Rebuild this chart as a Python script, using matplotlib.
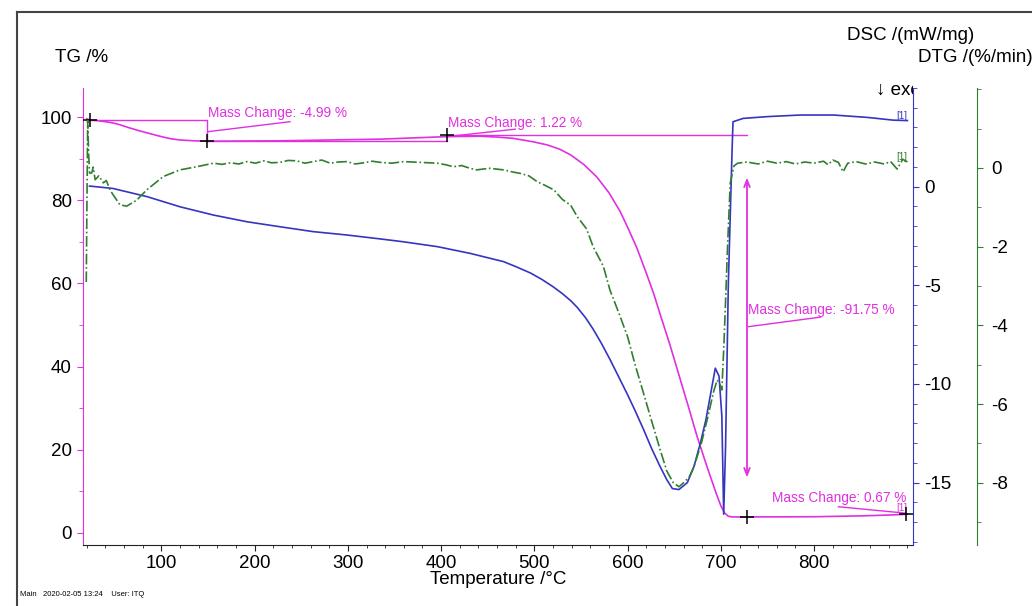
import numpy as np
import matplotlib
matplotlib.use('Agg')
import matplotlib.pyplot as plt
from matplotlib.ticker import MultipleLocator
from matplotlib.lines import Line2D
from matplotlib.transforms import Bbox, TransformedBbox

plt.rcParams['font.family'] = ['Liberation Sans', 'DejaVu Sans']
plt.rcParams['axes.unicode_minus'] = False

# TG curve (%)
T_tg = [20, 23.5, 30, 40, 48, 55, 66, 75, 85, 95, 102, 110, 120, 135, 149, 227, 335, 406, 442,
        460, 477, 490, 500, 514, 527, 539, 553, 567, 580, 592, 600, 610, 620, 628, 635, 645,
        655, 665, 674.5, 685, 695, 700, 704, 708, 712, 730, 800, 850, 880, 900]
tg = [99.6, 99.3, 99.2, 98.9, 98.6, 98.2, 97.4, 96.8, 96.2, 95.6, 95.2, 94.8, 94.5, 94.3, 94.2,
      94.3, 94.7, 95.3, 95.4, 95.2, 94.9, 94.4, 94.0, 93.3, 92.3, 90.9, 88.6, 85.6, 81.8, 77.3,
      73.5, 68.5, 62.5, 57.5, 52.5, 45.5, 38.0, 30.5, 23.2, 16.0, 9.5, 6.5, 4.8, 4.0, 3.85,
      3.85, 3.9, 4.1, 4.3, 4.5]

# DSC curve (mW/mg)
T_dsc = [23, 48, 85, 120, 156, 192, 227, 263, 299, 335, 359, 396, 431, 467, 480, 496, 508, 520,
         530, 539, 546, 555, 563, 572, 581, 590, 600, 608, 617, 626, 635, 642, 648, 655, 664,
         671, 678, 684, 689, 694, 698, 701, 703, 705, 708, 712, 713, 724, 750, 785, 821, 857,
         885, 900]
dsc = [0.03, -0.09, -0.51, -1.02, -1.44, -1.78, -2.03, -2.28, -2.45, -2.65, -2.79, -3.04, -3.38,
       -3.80, -4.05, -4.38, -4.7, -5.07, -5.42, -5.78, -6.12, -6.65, -7.22, -7.95, -8.75, -9.6,
       -10.55, -11.35, -12.3, -13.3, -14.2, -14.85, -15.3, -15.35, -15.0, -14.2, -13.0, -11.8,
       -10.5, -9.2, -9.6, -11.6, -16.6, -13.2, -4.9, 1.85, 3.29, 3.46, 3.55, 3.63, 3.63, 3.51,
       3.37, 3.35]

# DTG curve (%/min)
T_dtg = [19.5, 21, 22, 23, 25.3, 27, 29, 30.7, 33, 37.8, 41, 45, 48.5, 55.7, 62.9, 73.6, 84.3,
         102, 120, 138, 156, 165, 174, 183, 192, 201, 210, 218, 227, 236, 245, 254, 263, 272,
         281, 290, 299, 308, 317, 326, 335, 347, 360, 378, 396, 405, 413, 422, 431, 438, 452,
         467, 476, 485, 494, 503, 512, 521, 530, 539, 546, 556, 563, 574, 581, 590, 600, 608,
         617, 626, 635, 642, 649, 655, 660, 666, 671, 679, 686, 692, 696, 699, 701, 703, 705,
         707, 710, 714, 718, 728, 740, 750, 760, 770, 780, 790, 800, 810, 815, 820, 826, 831,
         836, 845, 855, 865, 875, 882, 889, 895, 900]
dtg = [-2.9, 1.2, 0.4, -0.13, -0.13, 0.02, -0.3, -0.26, -0.2, -0.38, -0.32, -0.56, -0.69, -0.94,
       -0.97, -0.82, -0.56, -0.22, -0.05, 0.03, 0.12, 0.09, 0.13, 0.1, 0.16, 0.12, 0.18, 0.13,
       0.14, 0.19, 0.18, 0.12, 0.16, 0.2, 0.12, 0.15, 0.16, 0.1, 0.13, 0.17, 0.14, 0.12, 0.16,
       0.14, 0.12, 0.08, 0.03, 0.06, -0.01, -0.05, -0.01, -0.05, -0.1, -0.14, -0.2, -0.35, -0.45,
       -0.56, -0.8, -0.95, -1.24, -1.55, -2.0, -2.5, -3.1, -3.65, -4.29, -5.0, -5.72, -6.45,
       -7.17, -7.7, -8.0, -8.1, -8.0, -7.85, -7.6, -7.0, -6.33, -5.7, -5.39, -5.5, -5.64, -4.63,
       -3.4, -2.09, -0.39, 0.05, 0.12, 0.15, 0.1, 0.17, 0.12, 0.16, 0.1, 0.15, 0.12, 0.17, 0.08,
       0.2, 0.14, -0.1, 0.12, 0.16, 0.1, 0.15, 0.1, 0.16, -0.03, 0.22, 0.15]

x_ticks = [100, 200, 300, 400, 500, 600, 700, 800]
tg_ticks = [0, 20, 40, 60, 80, 100]
dsc_ticks = [0, -5, -10, -15]
dtg_ticks = [0, -2, -4, -6, -8]

mag = '#e030e0'
blue = '#3535c0'
green = '#2f7f2f'
fs = 13.5

fig = plt.figure(figsize=(10.32, 6.06), dpi=100)
ax = fig.add_axes([83 / 1032, 1 - 545 / 606, 830 / 1032, 457 / 606])
ax2 = ax.twinx()
ax3 = ax.twinx()

ax.plot(T_tg, tg, color=mag, lw=1.2, zorder=3)
ax2.plot(T_dsc, dsc, color=blue, lw=1.2)
ax3.plot(T_dtg, dtg, color=green, lw=1.2, ls='-.')

ax.set_xlim(16, 906)
ax.set_ylim(-2.9, 107)
ax2.set_ylim(-18.16, 5.0)
ax3.set_ylim(-9.58, 2.03)

for a in (ax, ax2, ax3):
    a.patch.set_visible(False)
    for s in a.spines.values():
        s.set_visible(False)

ax.spines['left'].set_visible(True)
ax.spines['left'].set_color(mag)
ax.spines['bottom'].set_visible(True)
ax.spines['bottom'].set_color('#222222')
ax2.spines['right'].set_visible(True)
ax2.spines['right'].set_color(blue)
ax3.spines['right'].set_visible(True)
ax3.spines['right'].set_color(green)
ax3.spines['right'].set_position(('outward', 46))

ax.set_xticks(x_ticks)
ax.xaxis.set_minor_locator(MultipleLocator(20))
ax.set_yticks(tg_ticks)
ax.yaxis.set_minor_locator(MultipleLocator(10))
ax2.set_yticks(dsc_ticks)
ax2.yaxis.set_minor_locator(MultipleLocator(1))
ax3.set_yticks(dtg_ticks)
ax3.yaxis.set_minor_locator(MultipleLocator(1))

ax.tick_params(axis='x', which='major', length=4, pad=3, labelsize=fs, color='#222222')
ax.tick_params(axis='x', which='minor', length=2.5, color='#222222')
ax.tick_params(axis='y', which='major', length=4, pad=4, labelsize=fs, color=mag)
ax.tick_params(axis='y', which='minor', length=3, color=mag)
ax2.tick_params(axis='y', which='major', length=4, pad=4, labelsize=fs, color=blue)
ax2.tick_params(axis='y', which='minor', length=3, color=blue)
ax3.tick_params(axis='y', which='major', length=4, pad=6, labelsize=fs, color=green)
ax3.tick_params(axis='y', which='minor', length=3, color=green)

# mass change annotations on TG axis
ann = dict(color=mag, lw=1.0, zorder=4)
ax.plot([23.5, 149, 149], [99.3, 99.3, 94.2], **ann)
ax.plot([149, 406], [94.2, 94.2], **ann)
ax.plot([150, 238], [96.5, 98.9], **ann)
ax.plot([406, 728], [95.6, 95.6], **ann)
ax.plot([406, 479.5], [95.3, 97.1], **ann)
ax.plot([729.5, 806.8], [49.6, 51.9], **ann)
ax.plot([826, 896], [6.3, 4.8], **ann)
ax.annotate('', xy=(728, 12.7), xytext=(728, 86.1),
            arrowprops=dict(arrowstyle='<->,head_length=0.5,head_width=0.2', color=mag, lw=1.3))

tk = dict(color=mag, fontsize=9.8, va='center', ha='left', zorder=5)
ax.text(150, 101.0, 'Mass Change: -4.99 %', **tk)
ax.text(407.6, 98.6, 'Mass Change: 1.22 %', **tk)
ax.text(729.5, 53.6, 'Mass Change: -91.75 %', **tk)
ax.text(755, 8.4, 'Mass Change: 0.67 %', **tk)

ax.plot([23.5, 149, 406, 728, 899], [99.3, 94.2, 95.7, 3.85, 4.5], ls='none', marker='+',
        color='black', ms=10, mew=1.1, zorder=6)

ax.text(888, 100.2, '[1]', color=blue, fontsize=7, ha='left', va='center')
ax.text(888, 90.4, '[1]', color=green, fontsize=7, ha='left', va='center')
ax.text(888, 6.0, '[1]', color=mag, fontsize=7, ha='left', va='center')

# axis titles
fig.text(55 / 1032, 1 - 58 / 606, 'TG /%', fontsize=fs, ha='left', va='center')
fig.text(847 / 1032, 1 - 36 / 606, 'DSC /(mW/mg)', fontsize=fs, ha='left', va='center')
fig.text(918 / 1032, 1 - 58 / 606, 'DTG /(%/min)', fontsize=fs, ha='left', va='center')
exo = fig.text(876 / 1032, 1 - 90 / 606, '↓ exo', fontsize=fs, ha='left', va='center')
exo.set_clip_box(TransformedBbox(Bbox([[0, 0], [913 / 1032, 1]]), fig.transFigure))
exo.set_clip_on(True)
fig.text(498 / 1032, 1 - 580 / 606, 'Temperature /°C', fontsize=fs, ha='center', va='center')
fig.text(20 / 1032, 1 - 594 / 606, 'Main   2020-02-05 13:24    User: ITQ', fontsize=5.5,
         ha='left', va='center')

# outer frame
fig.add_artist(Line2D([17 / 1032, 1], [1 - 12 / 606] * 2, color='#444444', lw=1.5,
                      transform=fig.transFigure))
fig.add_artist(Line2D([17 / 1032] * 2, [0, 1 - 12 / 606], color='#444444', lw=1.5,
                      transform=fig.transFigure))

fig.savefig('out.png', dpi=100)
